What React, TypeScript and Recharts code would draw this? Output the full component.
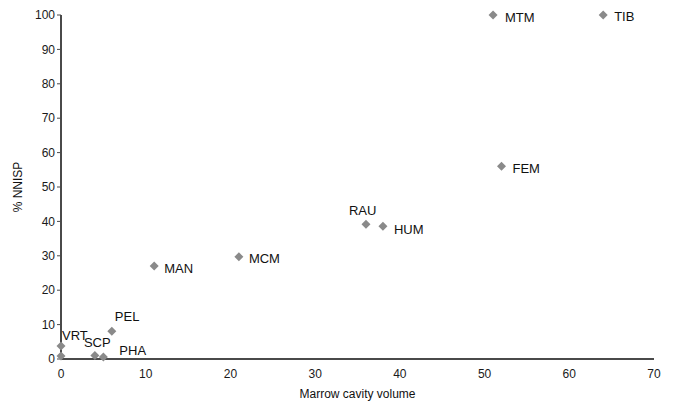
// Marrow cavity volume vs %NNISP scatter

import { CartesianGrid, Scatter, ScatterChart, XAxis, YAxis } from "recharts";

const ELEMENTS = ["MTM", "TIB", "FEM", "RAU", "HUM", "MCM", "MAN", "PEL", "VRT", "", "SCP", "PHA"];
const MARROW_VOLUME = [51, 64, 52, 36, 38, 21, 11, 6, 0, 0, 4, 5];
const NNISP = [100, 100, 56, 39.2, 38.6, 29.7, 27, 8.1, 3.8, 0.9, 1, 0.6];

const X_TICKS = [0, 10, 20, 30, 40, 50, 60, 70];
const Y_TICKS = [0, 10, 20, 30, 40, 50, 60, 70, 80, 90, 100];

// label offsets from the marker centre (px)
const LABEL_POS: Record<string, [number, number]> = {
  MTM: [12, 2],
  TIB: [11, 1],
  FEM: [11, 2],
  RAU: [-17, -14],
  HUM: [11, 3],
  MCM: [10, 2],
  MAN: [10, 2],
  PEL: [3, -15],
  VRT: [1, -10],
  SCP: [-11, -13],
  PHA: [16, -6],
};

const data = ELEMENTS.map((name, i) => ({
  name,
  volume: MARROW_VOLUME[i],
  nnisp: NNISP[i],
}));

const FONT = "'Liberation Sans', Arial, sans-serif";

const DiamondWithLabel = (props: any) => {
  const { cx, cy, payload } = props;
  const r = 4.5;
  const pos = LABEL_POS[payload.name];
  return (
    <g>
      <polygon
        points={`${cx},${cy - r} ${cx + r},${cy} ${cx},${cy + r} ${cx - r},${cy}`}
        fill="#8a8a8a"
      />
      {pos && (
        <text
          x={cx + pos[0]}
          y={cy + pos[1]}
          dominantBaseline="central"
          fontSize={13}
          fontFamily={FONT}
          fill="#111"
        >
          {payload.name}
        </text>
      )}
    </g>
  );
};

export default function App() {
  return (
    <div style={{ position: "absolute", left: 0, top: 0, background: "#fff" }}>
      <ScatterChart width={675} height={401} margin={{ top: 15, right: 21, bottom: 0, left: 0 }}>
        <CartesianGrid stroke="none" />
        <XAxis
          type="number"
          dataKey="volume"
          domain={[0, 70]}
          ticks={X_TICKS}
          height={42}
          tickLine={false}
          axisLine={{ stroke: "#4a4a4a", strokeWidth: 2 }}
          tick={{ fontSize: 12, fill: "#1a1a1a", fontFamily: FONT }}
          tickMargin={4}
          label={{
            value: "Marrow cavity volume",
            position: "insideBottom",
            offset: 3,
            fontSize: 12,
            fill: "#111",
            fontFamily: FONT,
          }}
        />
        <YAxis
          type="number"
          dataKey="nnisp"
          domain={[0, 100]}
          ticks={Y_TICKS}
          width={61}
          tickSize={4}
          tickLine={{ stroke: "#4a4a4a" }}
          axisLine={{ stroke: "#4a4a4a", strokeWidth: 2 }}
          tick={{ fontSize: 12, fill: "#1a1a1a", fontFamily: FONT }}
          label={{
            value: "% NNISP",
            angle: -90,
            position: "insideLeft",
            offset: 18,
            fontSize: 12,
            fill: "#111",
            fontFamily: FONT,
            style: { textAnchor: "middle" },
          }}
        />
        <Scatter data={data} shape={DiamondWithLabel} isAnimationActive={false} />
      </ScatterChart>
    </div>
  );
}
